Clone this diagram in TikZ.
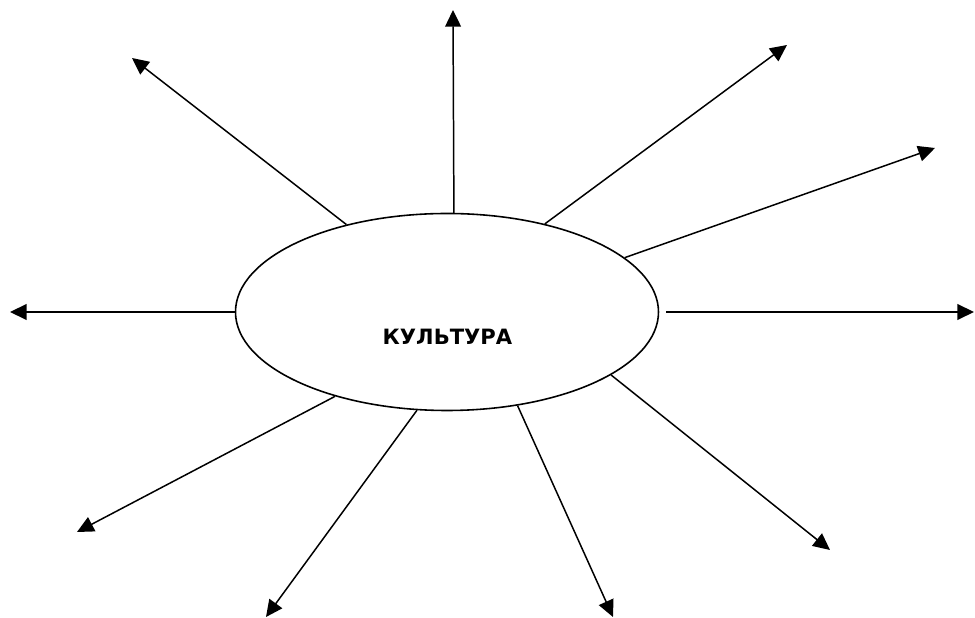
\documentclass[tikz,border=0pt]{standalone}
\usepackage{fontspec}
\setsansfont{DejaVu Sans}
\usetikzlibrary{shapes.geometric}
\usetikzlibrary{arrows.meta}

\begin{document}
\begin{tikzpicture}[
    spoke/.style={-{Triangle[length=9.5pt,width=9pt]}, line width=0.85pt},
    bigoval/.style={ellipse, draw, line width=0.9pt, minimum width=8.46cm, minimum height=3.94cm, inner sep=0pt}
]
    \useasboundingbox (-8.94,-6.12) rectangle (10.56,6.24);

    % Center ellipse
    \node[bigoval] (cult) at (0,0) {};
    \node[font=\sffamily\bfseries\fontsize{12}{14}\selectfont] (cultname) at (0.01,-0.49) {КУЛЬТУРА};

    % Arrow tips
    \coordinate (tipNW) at (-6.30,5.08);
    \coordinate (tipN) at (0.12,6.04);
    \coordinate (tipNE) at (6.80,5.34);
    \coordinate (tipENE) at (9.76,3.28);
    \coordinate (tipE) at (10.54,0);
    \coordinate (tipW) at (-8.74,0);
    \coordinate (tipSW) at (-7.40,-4.40);
    \coordinate (tipSSW) at (-3.62,-6.10);
    \coordinate (tipSSE) at (3.32,-6.10);
    \coordinate (tipSE) at (7.66,-4.76);

    % Spokes
    \foreach \ang/\tip in {139.8/tipNW, 86.6/tipN, 42.2/tipNE, 17.7/tipENE,
                           180/tipW, 217.6/tipSW, 253/tipSSW, 307.5/tipSSE, 339.1/tipSE}
        \draw[spoke] (cult.\ang) -- (\tip);
    \draw[spoke, shorten <=4pt] (cult.0) -- (tipE);
\end{tikzpicture}
\end{document}
